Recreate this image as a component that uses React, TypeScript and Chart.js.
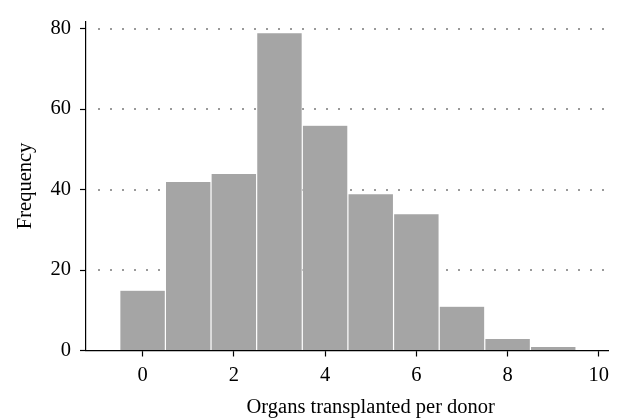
import React, { useEffect, useRef } from "react";
import { Chart, registerables } from "chart.js";

Chart.register(...registerables);

const binCenters = [0, 1, 2, 3, 4, 5, 6, 7, 8, 9];
const frequencies = [15, 42, 44, 79, 56, 39, 34, 11, 3, 1];
const xTickValues = [0, 2, 4, 6, 8, 10];
const yTickValues = [0, 20, 40, 60, 80];
const xTitle = "Organs transplanted per donor";
const yTitle = "Frequency";

const FONT = "'Liberation Serif', 'Times New Roman', serif";
const FONT_SIZE = 20.5;

export default function App() {
  const ref = useRef<HTMLCanvasElement>(null);

  useEffect(() => {
    const canvas = ref.current;
    if (!canvas) return;

    const dottedGrid = {
      id: "dottedGrid",
      beforeDatasetsDraw(chart: any) {
        const { ctx, chartArea, scales } = chart;
        const y = scales.y;
        ctx.save();
        ctx.strokeStyle = "#7a7a7a";
        ctx.lineWidth = 1.5;
        ctx.setLineDash([2, 10]);
        yTickValues.forEach((v) => {
          if (v === 0) return;
          const py = Math.round(y.getPixelForValue(v));
          ctx.beginPath();
          ctx.moveTo(chartArea.left + 12, py);
          ctx.lineTo(chartArea.right, py);
          ctx.stroke();
        });
        ctx.restore();
      },
    };

    const xTitlePlugin = {
      id: "xTitlePlugin",
      afterDraw(chart: any) {
        const { ctx, scales } = chart;
        const x = scales.x;
        const cx =
          (x.getPixelForValue(xTickValues[0]) +
            x.getPixelForValue(xTickValues[xTickValues.length - 1])) /
          2;
        ctx.save();
        ctx.font = `${FONT_SIZE}px ${FONT}`;
        ctx.fillStyle = "#000";
        ctx.textAlign = "center";
        ctx.textBaseline = "alphabetic";
        ctx.fillText(xTitle, cx, x.bottom - 6.5);
        ctx.restore();
      },
    };

    const font = { family: FONT, size: FONT_SIZE };

    const chart = new Chart(canvas, {
      type: "bar",
      data: {
        datasets: [
          {
            data: binCenters.map((x, i) => ({ x, y: frequencies[i] })),
            backgroundColor: "#a5a5a5",
            borderColor: "#ffffff",
            borderWidth: { top: 0.6, left: 0.6, right: 0.6, bottom: 0 },
            borderSkipped: "start",
            barPercentage: 1,
            categoryPercentage: 1,
            inflateAmount: 0,
          } as any,
        ],
      },
      plugins: [dottedGrid, xTitlePlugin],
      options: {
        responsive: false,
        animation: false,
        events: [],
        layout: { padding: { top: 11.7, right: 11, bottom: 0, left: 0 } },
        plugins: {
          legend: { display: false },
          tooltip: { enabled: false },
          title: { display: false },
        },
        scales: {
          x: {
            type: "linear",
            min: -1.24,
            max: 10.2,
            offset: false,
            afterBuildTicks: (s: any) => {
              s.ticks = xTickValues.map((value) => ({ value }));
            },
            afterFit: (s: any) => {
              s.height = 68.5;
            },
            grid: {
              display: true,
              offset: false,
              drawOnChartArea: false,
              drawTicks: true,
              tickLength: 6,
              tickColor: "#000",
              tickWidth: 1.2,
            },
            border: { display: true, color: "#000", width: 1.2 },
            ticks: {
              color: "#000",
              font,
              padding: 7,
              autoSkip: false,
              maxRotation: 0,
              includeBounds: false,
              callback: (v: any) => String(v),
            },
            title: { display: false },
          } as any,
          y: {
            type: "linear",
            min: 0,
            max: 81.8,
            afterBuildTicks: (s: any) => {
              s.ticks = yTickValues.map((value) => ({ value }));
            },
            afterFit: (s: any) => {
              s.width = 86;
            },
            grid: {
              display: true,
              drawOnChartArea: false,
              drawTicks: true,
              tickLength: 6,
              tickColor: "#000",
              tickWidth: 1.2,
            },
            border: { display: true, color: "#000", width: 1.2 },
            ticks: {
              color: "#000",
              font,
              padding: 9,
              includeBounds: false,
              callback: (v: any) => String(v),
            },
            title: {
              display: true,
              text: yTitle,
              color: "#000",
              font,
              padding: { top: 13, bottom: 0 },
            },
          } as any,
        },
      },
    });

    return () => chart.destroy();
  }, []);

  return (
    <div style={{ position: "absolute", left: 0, top: 0, width: 619, height: 419, background: "#fff" }}>
      <canvas ref={ref} width={619} height={419} style={{ display: "block" }} />
    </div>
  );
}
